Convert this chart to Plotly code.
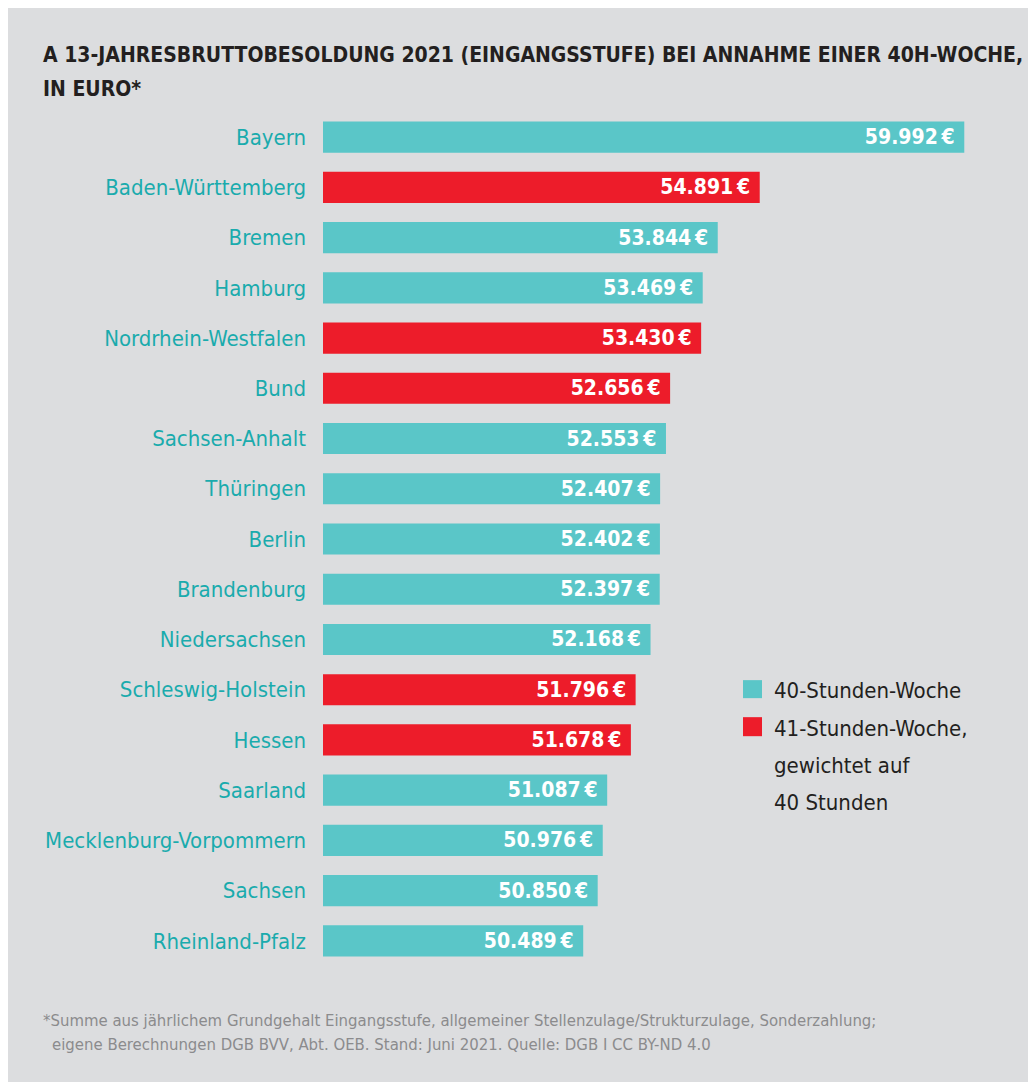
import plotly.graph_objects as go

states = ["Bayern", "Baden-Württemberg", "Bremen", "Hamburg", "Nordrhein-Westfalen",
          "Bund", "Sachsen-Anhalt", "Thüringen", "Berlin", "Brandenburg",
          "Niedersachsen", "Schleswig-Holstein", "Hessen", "Saarland",
          "Mecklenburg-Vorpommern", "Sachsen", "Rheinland-Pfalz"]
values = [59992, 54891, 53844, 53469, 53430, 52656, 52553, 52407, 52402, 52397,
          52168, 51796, 51678, 51087, 50976, 50850, 50489]
week41 = [False, True, False, False, True, True, False, False, False, False,
          False, True, True, False, False, False, False]
legend_labels = ["40-Stunden-Woche", "41-Stunden-Woche,<br>gewichtet auf<br>40 Stunden"]

TEAL = "#5ac6c8"
RED = "#ed1c2a"
LABEL = "#1aabad"
DARK = "#231f20"
BG = "#dcdddf"
FONT = "Liberation Sans Narrow, DejaVu Sans Condensed, Arial Narrow, sans-serif"

OFF = 8  # page body margin
W, H = 1036 - OFF, 1082 - OFF
L = 323 - OFF
PLOT_RIGHT = 1000 - OFF
T = 112.4 - OFF
PH = 853.2
B = H - T - PH
R = W - PLOT_RIGHT
PW = PLOT_RIGHT - L
X0 = 44000
XPERPX = 1 / 0.0401
X1 = X0 + PW * XPERPX


def px(x):
    # reference pixel -> paper coordinate
    return (x - OFF - L) / PW


def py(y):
    return (T + PH - (y - OFF)) / PH


def fmt(v):
    return f"{v:,}".replace(",", ".") + "\u202f€"


fig = go.Figure()
for flag, color, name in [(False, TEAL, "40"), (True, RED, "41")]:
    ys = [s for s, f in zip(states, week41) if f == flag]
    xs = [v for v, f in zip(values, week41) if f == flag]
    fig.add_trace(go.Bar(
        x=xs, y=ys, orientation="h", marker=dict(color=color, line=dict(width=0)),
        text=[fmt(v) + " " for v in xs], textposition="inside", insidetextanchor="end",
        textfont=dict(color="white", size=21, family=FONT, weight="bold"),
        constraintext="none", cliponaxis=True, showlegend=False, name=name,
        hoverinfo="skip"))

fig.update_layout(
    width=W, height=H, margin=dict(l=L, r=R, t=T, b=B, pad=0),
    paper_bgcolor=BG, plot_bgcolor="rgba(0,0,0,0)",
    bargap=0.38, barmode="overlay",
    font=dict(family=FONT),
    xaxis=dict(range=[X0, X1], visible=False, fixedrange=True),
    yaxis=dict(type="category", categoryorder="array", categoryarray=states,
               autorange="reversed", showgrid=False, zeroline=False, showline=False,
               ticks="", ticklabelstandoff=16,
               tickfont=dict(size=22, color=LABEL, family=FONT)),
)

shapes = [dict(type="rect", xref="paper", yref="paper", x0=px(743), x1=px(762),
               y0=py(680), y1=py(698), fillcolor=TEAL, line=dict(width=0)),
          dict(type="rect", xref="paper", yref="paper", x0=px(743), x1=px(762),
               y0=py(717), y1=py(736), fillcolor=RED, line=dict(width=0))]
fig.update_layout(shapes=shapes)

ann = []
ann.append(dict(text="A 13-JAHRESBRUTTOBESOLDUNG 2021 (EINGANGSSTUFE) BEI ANNAHME EINER 40H-WOCHE,",
                x=px(41), y=py(55), xanchor="left", yanchor="middle",
                font=dict(size=21, color=DARK, family=FONT, weight="bold")))
ann.append(dict(text="IN EURO*", x=px(41), y=py(89), xanchor="left", yanchor="middle",
                font=dict(size=21, color=DARK, family=FONT, weight="bold")))
ann.append(dict(text=legend_labels[0], x=px(772), y=py(690), xanchor="left", yanchor="middle",
                font=dict(size=22, color=DARK, family=FONT)))
for i, line in enumerate(legend_labels[1].split("<br>")):
    ann.append(dict(text=line, x=px(772), y=py(728 + 37 * i), xanchor="left", yanchor="middle",
                    font=dict(size=22, color=DARK, family=FONT)))
ann.append(dict(text="*Summe aus jährlichem Grundgehalt Eingangsstufe, allgemeiner Stellenzulage/Strukturzulage, Sonderzahlung;",
                x=px(41), y=py(1020), xanchor="left", yanchor="middle",
                font=dict(size=16.6, color="#8b8b8d", family=FONT)))
ann.append(dict(text="eigene Berechnungen DGB BVV, Abt. OEB. Stand: Juni 2021. Quelle: DGB I CC BY-ND 4.0",
                x=px(50), y=py(1044), xanchor="left", yanchor="middle",
                font=dict(size=16.6, color="#8b8b8d", family=FONT)))
for a in ann:
    a.update(xref="paper", yref="paper", showarrow=False)
fig.update_layout(annotations=ann)

fig.write_html("out.html")
